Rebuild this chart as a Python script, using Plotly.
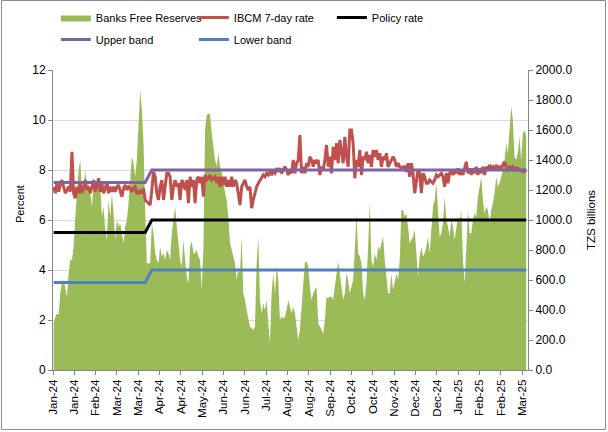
import plotly.graph_objects as go

tick_labels = ["Jan-24", "Jan-24", "Feb-24", "Mar-24", "Mar-24", "Apr-24", "Apr-24", "May-24",
               "Jun-24", "Jun-24", "Jul-24", "Aug-24", "Aug-24", "Sep-24", "Oct-24", "Oct-24",
               "Nov-24", "Dec-24", "Dec-24", "Jan-25", "Feb-25", "Feb-25", "Mar-25"]

# Banks free reserves, TZS billions (right axis)
reserves = [
    311, 355, 378, 367, 511, 589, 600, 533, 489, 644, 733, 733, 822, 1022, 1222, 1333, 1400, 1178,
    1222, 1333, 1200, 1244, 1178, 1089, 1244, 1267, 1178, 1267, 1222, 1022, 1089, 933, 867, 1133,
    1022, 1178, 1044, 867, 1000, 956, 978, 911, 844, 956, 1000, 1111, 1289, 1422, 1378, 1289, 1400,
    1622, 1867, 1733, 1511, 1067, 711, 711, 711, 978, 911, 778, 733, 711, 822, 756, 778, 733, 800,
    778, 733, 911, 1000, 1089, 956, 822, 733, 689, 867, 733, 622, 578, 822, 856, 778, 778, 800, 756,
    733, 533, 822, 1600, 1700, 1711, 1700, 1578, 1467, 1400, 1356, 1444, 1356, 1311, 1267, 1178,
    1133, 1022, 844, 800, 756, 711, 600, 689, 644, 889, 511, 467, 400, 333, 289, 278, 267, 289, 711,
    889, 467, 378, 444, 400, 467, 311, 178, 511, 644, 511, 689, 600, 333, 356, 344, 356,
    400, 467, 422, 378, 422, 378, 289, 200, 267, 400, 556, 722, 722, 689, 556, 467, 511, 533, 556,
    311, 289, 267, 244, 333, 489, 478, 489, 489, 467, 556, 644, 722, 644, 556, 467, 511, 644, 600,
    511, 556, 600, 800, 1044, 778, 756, 711, 511, 467, 578, 822, 1111, 733, 689, 778, 733, 822, 800,
    844, 889, 733, 600, 511, 511, 644, 533, 600, 644, 600, 733, 1067, 1067,
    1022, 1044, 956, 844, 867, 889, 933, 756, 622, 756, 822, 756, 778, 822, 889, 778, 956, 1089,
    1133, 1244, 1067, 889, 911, 978, 1156, 1000, 956, 889, 1000, 956, 867, 956, 1022, 978, 1067,
    733, 578, 800, 1067, 911, 911, 1000, 1044, 1022, 1156, 1222, 1289, 1133, 1044, 1089, 1067, 978,
    1067, 1111, 1178, 1289, 1222, 1244, 1289, 1333, 1400, 1511, 1444, 1622, 1756, 1667, 1422, 1400,
    1444, 1556, 1400, 1578, 1600, 1556,
]

# IBCM 7-day rate, percent (left axis)
ibcm = [
    7.33, 7.07, 7.47, 7.13, 7.40, 7.60, 7.33, 7.07, 7.20, 7.33, 7.13, 8.73, 7.07, 6.87, 7.33, 7.07,
    7.47, 7.07, 7.33, 7.60, 7.20, 7.33, 7.07, 7.40, 7.60, 7.13, 7.33, 7.67, 7.13, 7.47, 7.07, 7.27,
    7.53, 7.07, 7.33, 7.13, 7.33, 7.13, 7.33, 7.40, 7.20, 6.93, 7.27, 7.40, 7.20, 7.33, 7.27, 7.13,
    7.27, 7.33, 7.07, 7.07, 7.20, 7.07, 7.27, 6.80, 6.73, 6.67, 6.60, 7.20, 7.93, 7.73, 7.07, 6.80,
    7.33, 7.60, 6.80, 7.33, 7.87,
    7.87, 7.73, 6.80, 7.33, 7.60, 7.33, 7.47, 6.80, 7.60, 7.47, 7.20, 7.60, 6.67, 7.73, 7.33, 7.60,
    6.67, 7.60, 7.73, 7.47, 7.73, 6.93, 7.80, 7.60, 7.67, 7.80, 7.60, 7.67, 7.73, 7.47, 7.73, 7.33,
    7.73, 7.40, 7.73, 7.33, 7.60, 7.33, 7.73, 7.33, 7.60, 7.47, 7.07, 6.60, 7.33, 7.47, 7.60, 7.33,
    7.20, 7.33, 6.47, 6.80, 7.07, 7.33, 7.47, 7.60, 7.73, 7.80, 7.73, 7.87, 7.80, 7.93, 7.80, 7.93,
    7.87, 8.07, 7.93, 8.07, 7.87, 8.00, 8.13,
    8.00, 7.80, 8.00, 7.87, 8.40, 7.87, 8.27, 8.40, 9.40, 7.87, 8.13, 7.87, 8.27, 8.13, 8.53, 8.40,
    8.13, 8.40, 8.27, 8.40, 7.80, 8.13, 8.00, 8.40, 9.00, 8.13, 8.53, 7.87, 8.93, 8.40, 9.07, 8.27,
    9.20, 8.67, 8.27, 9.33, 8.53, 8.13, 9.60, 9.60, 9.07, 7.67, 8.40, 8.13, 8.80, 7.80, 8.53, 8.40,
    8.73, 8.27, 8.60, 8.13, 8.80, 8.53, 8.80, 8.40, 8.67, 8.13, 8.53, 8.40, 8.67, 8.13, 8.27, 8.40,
    8.53, 8.40, 8.13, 8.27, 8.13, 8.07, 8.13,
    8.13, 7.93, 8.27, 7.73, 8.27, 7.87, 7.07, 7.60, 8.00, 7.87, 7.07, 7.87, 7.73, 7.47, 7.47, 7.60,
    7.53, 7.47, 7.60, 7.80, 7.73, 7.80, 7.87, 7.73, 7.33, 7.87, 7.47, 7.87, 8.00, 7.80, 8.00, 7.87,
    8.07, 7.80, 8.00, 7.80, 8.07, 8.33, 7.87, 8.07, 7.80, 8.07, 7.87, 8.13, 7.80, 8.07, 7.87, 8.13,
    7.80, 8.13, 8.00, 8.20, 8.07, 8.13, 8.00, 8.20, 8.07, 8.13, 8.07, 8.20, 8.33, 8.13, 8.07, 8.13,
    8.07, 8.13, 8.00, 8.07, 8.07, 8.00, 8.00, 7.93, 8.00, 7.93,
]

# Corridor: value before / after the April 2024 policy-rate change
policy_rate_levels = [5.5, 6.0]
upper_band_levels = [7.5, 8.0]
lower_band_levels = [3.5, 4.0]
last_old_point = 55
first_new_point = 59

N = len(reserves)
idx = list(range(N))


def step_series(levels):
    old, new = levels
    return ([old] * (last_old_point + 1)
            + [None] * (first_new_point - last_old_point - 1)
            + [new] * (N - first_new_point))


policy = step_series(policy_rate_levels)
upper = step_series(upper_band_levels)
lower = step_series(lower_band_levels)

FONT = "Liberation Sans, Arial, sans-serif"
AX = "#868686"

fig = go.Figure()
fig.add_trace(go.Scatter(x=idx, y=reserves, name="Banks Free Reserves", mode="lines",
                         fill="tozeroy", fillcolor="#9bbb59", line=dict(width=0, color="#9bbb59"),
                         yaxis="y", legend="legend"))
fig.add_trace(go.Scatter(x=idx, y=ibcm, name="IBCM 7-day rate", mode="lines",
                         line=dict(color="#c0504d", width=3), yaxis="y2", legend="legend"))
fig.add_trace(go.Scatter(x=idx, y=policy, name="Policy rate", mode="lines", connectgaps=True,
                         line=dict(color="#000000", width=3), yaxis="y2", legend="legend"))
fig.add_trace(go.Scatter(x=idx, y=upper, name="Upper band", mode="lines", connectgaps=True,
                         line=dict(color="#8064a2", width=3), yaxis="y2", legend="legend2"))
fig.add_trace(go.Scatter(x=idx, y=lower, name="Lower band", mode="lines", connectgaps=True,
                         line=dict(color="#4f81bd", width=3), yaxis="y2", legend="legend2"))

tick_step = 12.82
tickvals = [-0.4 + i * tick_step for i in range(len(tick_labels))]

fig.update_layout(
    width=608, height=432,
    margin=dict(l=53, r=80, t=70, b=62, autoexpand=False),
    paper_bgcolor="white", plot_bgcolor="white",
    font=dict(family=FONT, size=11, color="#000000"),
    showlegend=True,
    xaxis=dict(range=[-0.4, 285.1], tickmode="array", tickvals=tickvals, ticktext=tick_labels,
               tickangle=-90, ticks="outside", ticklen=4, tickcolor=AX, showline=True,
               linecolor=AX, showgrid=False, zeroline=False, automargin=False,
               tickfont=dict(family=FONT, size=11.5, color="#000000")),
    yaxis=dict(side="right", range=[0, 2000], dtick=200, tickformat=".1f", ticks="outside",
               ticklen=4, tickcolor=AX, showline=True, linecolor=AX, showgrid=False,
               zeroline=False, automargin=False,
               tickfont=dict(family=FONT, size=12, color="#000000")),
    yaxis2=dict(overlaying="y", side="left", range=[0, 12], dtick=2, ticks="outside", ticklen=4,
                tickcolor=AX, showline=True, linecolor=AX, showgrid=True, gridcolor="#d9d9d9",
                zeroline=False, automargin=False,
                tickfont=dict(family=FONT, size=12, color="#000000")),
    legend=dict(orientation="h", x=0.006, y=1.2233, xanchor="left", yanchor="top",
                entrywidth=93, entrywidthmode="pixels", font=dict(family=FONT, size=11),
                bgcolor="rgba(0,0,0,0)"),
    legend2=dict(orientation="h", x=0.006, y=1.15, xanchor="left", yanchor="top",
                 entrywidth=93, entrywidthmode="pixels", font=dict(family=FONT, size=11),
                 bgcolor="rgba(0,0,0,0)"),
    annotations=[
        dict(text="Percent", xref="paper", yref="paper", x=(20 - 53) / 475, y=(370 - 204) / 300,
             xanchor="center", yanchor="middle",
             textangle=-90, showarrow=False, font=dict(family=FONT, size=11)),
        dict(text="TZS billions", xref="paper", yref="paper", x=(591 - 53) / 475, y=0.5,
             xanchor="center", yanchor="middle",
             textangle=-90, showarrow=False, font=dict(family=FONT, size=11.5)),
    ],
    shapes=[dict(type="rect", xref="paper", yref="paper", x0=(1.5 - 53) / 475,
                 x1=(605.5 - 53) / 475, y0=(370 - 429.5) / 300, y1=(370 - 0.5) / 300,
                 line=dict(color="#8c8c8c", width=1), fillcolor="rgba(0,0,0,0)", layer="below")],
)

fig.write_html("out.html", config={"displayModeBar": False},
               post_script="document.body.style.margin='0px';")
